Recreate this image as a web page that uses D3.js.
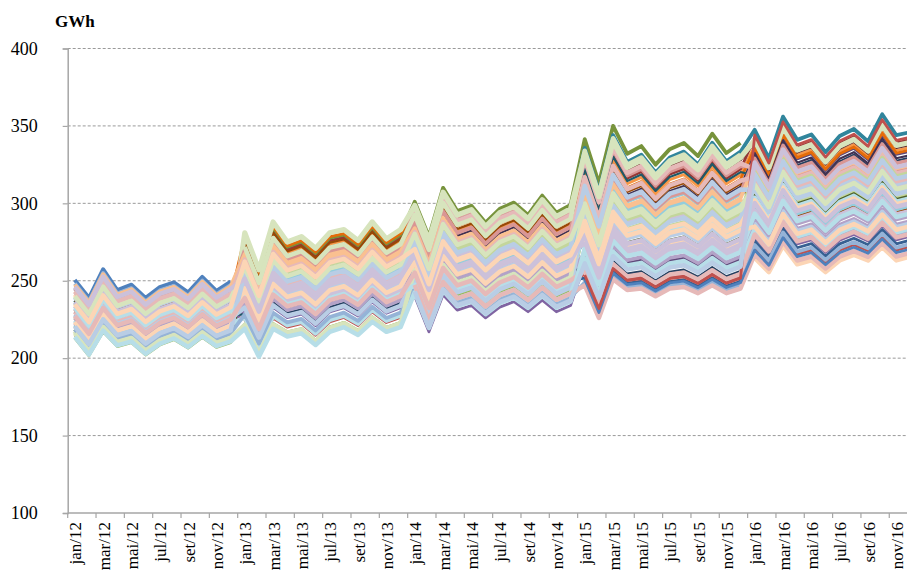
<!DOCTYPE html>
<html><head><meta charset="utf-8">
<script src="https://cdn.jsdelivr.net/npm/d3@7/dist/d3.min.js"></script>
<style>
html,body{margin:0;padding:0;background:#fff;overflow:hidden}
svg text{font-family:"Liberation Serif","Times New Roman",serif;fill:#000}
</style></head>
<body><svg id="chart" width="907" height="570"></svg>
<script>
// ---- data ----
const months = ["jan","fev","mar","abr","mai","jun","jul","ago","set","out","nov","dez"];
const years = ["12","13","14","15","16"];
const yTicks = [100,150,200,250,300,350,400];

// upper and lower envelope of each yearly fan (GWh)
const top2012 = [250.5,239,257.5,244,247.5,239,246,249,242.5,252.5,243.5,249.5];
const bot2012 = [213,201.5,217,207.5,210,202,208.5,212,206.5,213.5,207,210];
const top2013 = [281,257,288,275,278.5,271,281,283,276,288,277,283];
const bot2013 = [219,201,219,214,216,208.5,217,220,215,223.5,217,220];
const top2014 = [301,278.5,310,295,298.5,287.5,296.5,300.5,292.5,305,294,299];
const bot2014 = [240,217,241,231,234,226,233,236.5,230,237.5,230,234];
const top2015 = [341.5,313,350,332,337,325,335,339,330.5,345,332.5,339];
const bot2015 = [247,226,251,244,245,240,245,246,242,247,242,245];
const top2016 = [347.5,329,356,341,344.5,333,343.5,348,340,357.5,344,346];
const bot2016 = [263,254,271,259,261.5,254,261.5,265,261.5,270,261.5,264];

// position of each series inside the yearly fan (0 = top, 1 = bottom, null = absent)
const fanPos = [
 [0.00,null,null,null,null],
 [0.55,0.90,0.80,0.92,0.90],
 [1.00,0.95,0.85,0.60,0.62],
 [0.70,0.80,1.00,0.85,0.82],
 [0.40,0.55,0.50,0.45,0.40],
 [0.20,0.12,0.20,0.22,0.12],
 [0.30,0.65,0.75,0.95,0.85],
 [0.45,0.08,0.12,0.18,0.06],
 [0.85,0.05,0.00,0.00,null],
 [0.60,0.70,0.60,0.80,0.15],
 [0.35,0.15,0.08,0.06,0.00],
 [0.25,0.04,0.15,0.25,0.14],
 [0.06,0.45,0.55,0.70,0.78],
 [0.50,0.20,0.06,0.16,0.28],
 [0.65,0.40,0.35,0.55,0.48],
 [0.75,0.60,0.90,0.75,0.70],
 [0.15,0.30,0.40,0.35,0.45],
 [0.80,0.25,0.30,0.40,0.55],
 [0.10,0.75,0.65,0.88,0.20],
 [0.90,0.98,0.95,0.12,0.10],
 [0.95,0.50,0.45,0.65,0.50],
 [0.50,0.35,0.25,0.30,0.18],
 [0.55,0.85,0.70,0.20,0.35],
 [0.35,0.10,0.18,0.28,0.60],
 [0.30,0.55,0.62,0.62,0.72],
 [0.55,0.45,0.10,0.14,0.30],
 [0.88,0.00,0.04,0.10,0.08],
 [0.45,0.62,0.58,0.50,0.40],
 [0.70,0.88,0.78,0.58,0.52],
 [0.25,0.50,0.48,0.68,0.98],
 [0.85,0.85,0.92,0.98,0.88],
 [0.15,0.18,0.22,0.34,0.22],
 [0.40,0.32,0.38,0.48,0.32],
 [0.65,0.72,0.68,0.78,0.66],
 [0.78,0.40,0.52,0.42,0.58],
 [0.08,0.22,0.28,0.38,0.26],
 [0.60,0.78,0.82,0.52,0.38],
 [0.20,0.28,0.32,0.26,0.36],
 [0.92,0.96,0.72,0.44,0.44],
 [0.38,0.52,0.44,0.72,0.62],
 [0.48,0.66,0.88,0.82,0.76],
 [0.72,0.58,0.64,0.56,0.54],
 [0.80,0.42,0.42,0.32,0.46],
 [0.62,0.68,0.75,0.90,0.80],
 [0.28,0.36,0.34,0.46,0.42],
 [0.12,0.48,0.56,0.66,0.56],
 [0.98,1.00,0.96,0.75,0.64],
 [0.42,0.30,0.50,0.60,0.74],
 [null,0.15,0.14,0.08,null],
 [null,null,0.88,1.00,0.95],
 [null,null,null,0.96,0.92],
 [null,null,null,0.93,0.04],
 [null,null,0.95,0.85,0.34],
 [null,null,null,0.70,0.25]
];
const seriesColors = [
 "#4F81BD","#C0504D","#9BBB59","#8064A2","#4BACC6","#F79646",
 "#376092","#953735","#77933C","#604A7B","#31859C","#E46C0A",
 "#95B3D7","#D99694","#C3D69B","#B3A2C7","#93CDDD","#FAC090",
 "#254061","#632523","#4F6228","#403152","#215968","#984807",
 "#B9CDE5","#E6B9B8","#D7E4BD","#CCC1DA","#B7DEE8","#FCD5B5",
 "#95B3D7","#D99694","#C3D69B","#B3A2C7","#93CDDD","#FAC090",
 "#B9CDE5","#E6B9B8","#D7E4BD","#CCC1DA","#B7DEE8","#FCD5B5",
 "#B9CDE5","#E6B9B8","#D7E4BD","#CCC1DA","#B7DEE8","#FCD5B5",
 "#D7E4BD","#E6B9B8","#4F81BD","#C0504D","#B9CDE5","#CCC1DA"
];
const pastel = new Set(["#B9CDE5","#E6B9B8","#D7E4BD","#CCC1DA","#B7DEE8","#FCD5B5"]);
const light = new Set(["#95B3D7","#D99694","#C3D69B","#B3A2C7","#93CDDD","#FAC090"]);
const dark = new Set(["#254061","#632523","#4F6228","#403152","#215968","#984807"]);
const emphasized = new Set([0, 8, 10, 26]); // envelope lines drawn heavier

// ---- build ----
const categories = years.flatMap(y => months.map(m => m + "/" + y));
const tops = [top2012, top2013, top2014, top2015, top2016];
const bots = [bot2012, bot2013, bot2014, bot2015, bot2016];
const seriesData = fanPos.map(fp => categories.map((c, i) => {
  const yi = Math.floor(i / 12), mi = i % 12, f = fp[yi];
  if (f === null) return null;
  return tops[yi][mi] + f * (bots[yi][mi] - tops[yi][mi]);
}));

const FONT = "'Liberation Serif','Times New Roman',serif";
const svg = d3.select("#chart");
const left = 67.7, plotTop = 48.5, plotBottom = 513;
const catW = 14.165;
const x = d3.scaleBand().domain(categories).range([left, left + categories.length * catW]).padding(0);
const y = d3.scaleLinear().domain([100, 400]).range([plotBottom, plotTop]);
const cx = c => x(c) + x.bandwidth() / 2;

// gridlines
svg.append("g").selectAll("line").data(yTicks.filter(t => t > 100)).join("line")
  .attr("x1", left).attr("x2", left + categories.length * catW)
  .attr("y1", d => y(d)).attr("y2", d => y(d))
  .attr("stroke", "#9a9a9a").attr("stroke-width", 1).attr("stroke-dasharray", "3,2");

// y axis
const yAxis = d3.axisLeft(y).tickValues(yTicks).tickSize(5).tickPadding(25).tickFormat(d3.format("d"));
const gy = svg.append("g").attr("transform", `translate(${left},0)`).call(yAxis)
  .attr("font-family", FONT).attr("font-size", 18);
gy.select(".domain").attr("stroke", "#a6a6a6").attr("stroke-width", 1.5);
gy.selectAll(".tick line").attr("stroke", "#a6a6a6").attr("stroke-width", 1.2);
gy.selectAll(".tick text").style("font-size", "18px").style("font-family", FONT).attr("fill", "#000");

// x axis (ticks every 2 categories at boundaries)
const gx = svg.append("g");
gx.append("line").attr("x1", left).attr("x2", left + categories.length * catW)
  .attr("y1", plotBottom).attr("y2", plotBottom).attr("stroke", "#a6a6a6").attr("stroke-width", 1.5);
const tickCats = categories.filter((c, i) => i % 2 === 0);
gx.selectAll("line.tk").data(tickCats).join("line").attr("class", "tk")
  .attr("x1", d => x(d)).attr("x2", d => x(d))
  .attr("y1", plotBottom).attr("y2", plotBottom + 5)
  .attr("stroke", "#a6a6a6").attr("stroke-width", 1.2);
gx.selectAll("text").data(tickCats).join("text")
  .attr("transform", d => `translate(${cx(d) + 6.5},${plotBottom + 9}) rotate(-90)`)
  .attr("text-anchor", "end")
  .style("font-size", "17px").style("font-family", FONT)
  .text(d => d);

// series lines
const line = d3.line().defined(d => d.v !== null).x(d => cx(d.c)).y(d => y(d.v));
svg.append("g").selectAll("path").data(seriesData).join("path")
  .attr("fill", "none")
  .attr("stroke", (d, i) => seriesColors[i])
  .attr("stroke-width", (d, i) => {
    const c = seriesColors[i];
    if (emphasized.has(i)) return pastel.has(c) ? 5.2 : 3.8;
    if (pastel.has(c)) return 4.5;
    if (light.has(c)) return 3.8;
    if (dark.has(c)) return 2.2;
    return 2.8;
  })
  .attr("stroke-linejoin", "round")
  .attr("d", d => line(d.map((v, i) => ({c: categories[i], v}))));

// unit title
svg.append("text").attr("x", 55).attr("y", 27)
  .style("font-size", "17px").style("font-weight", "bold").style("font-family", FONT).text("GWh");
</script></body></html>
